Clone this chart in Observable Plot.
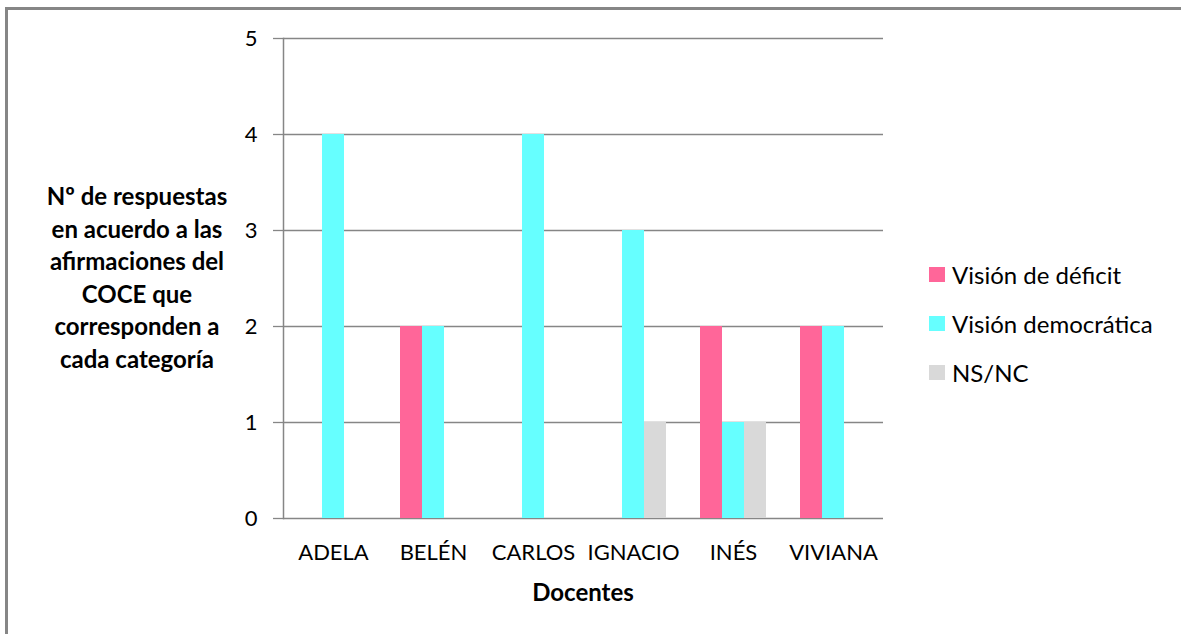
<!DOCTYPE html>
<html><head><meta charset="utf-8">
<script src="https://cdn.jsdelivr.net/npm/d3@7"></script>
<script src="https://cdn.jsdelivr.net/npm/@observablehq/plot@0.6"></script>
<style>
body{margin:0;background:#fff;font-family:Lato,"Open Sans",sans-serif;}
#wrap{position:relative;width:1181px;height:634px;overflow:hidden;background:#fff;}
#frame{position:absolute;left:5px;top:7px;width:1300px;height:800px;border-top:3px solid #868686;border-left:3px solid #868686;box-sizing:border-box;}
#chart{position:absolute;left:0;top:0;}
#ylabel{position:absolute;left:17px;top:180px;width:240px;text-align:center;font-weight:bold;font-size:24px;line-height:32.6px;color:#000;}
#xlabel{position:absolute;left:483px;top:577px;width:200px;text-align:center;font-weight:bold;font-size:24px;color:#000;}
#legend{position:absolute;left:929px;top:250px;font-size:24px;color:#000;}
.item{display:flex;align-items:center;height:49px;}
.sw{width:16px;height:15px;margin-right:7px;}
</style></head>
<body>
<div id="wrap">
<div id="frame"></div>
<div id="chart"></div>
<div id="ylabel">Nº de respuestas<br>en acuerdo a las<br>afirmaciones del<br>COCE que<br>corresponden a<br>cada categoría</div>
<div id="xlabel">Docentes</div>
<div id="legend"></div>
</div>
<script>
const docentes = ["ADELA","BELÉN","CARLOS","IGNACIO","INÉS","VIVIANA"];
const series = ["Visión de déficit","Visión democrática","NS/NC"];
const deficit = [0,2,0,0,2,2];
const democratica = [4,2,4,3,1,2];
const nsnc = [0,0,0,1,1,0];
const colors = ["#ff6699","#66ffff","#d9d9d9"];
const yTicks = [0,1,2,3,4,5];

const seriesValues = [deficit, democratica, nsnc];
const rows = [];
docentes.forEach((d,i)=>{
  seriesValues.forEach((arr,j)=>{
    if (arr[i] > 0) rows.push({docente:d, serie:series[j], valor:arr[i]});
  });
});

const chart = Plot.plot({
  width:1181, height:634,
  marginLeft:281, marginRight:296, marginTop:38, marginBottom:116,
  style:{fontFamily:"Lato, 'Open Sans', sans-serif", fontSize:"21px", color:"#000", background:"transparent"},
  fx:{domain:docentes, padding:0, label:null},
  x:{domain:series, paddingInner:0, paddingOuter:0.75, axis:null},
  y:{domain:[0,5], label:null},
  color:{domain:series, range:colors},
  marks:[
    Plot.ruleY(yTicks, {stroke:"#868686", strokeWidth:1.3}),
    Plot.barY(rows, {fx:"docente", x:"serie", y:"valor", fill:"serie"}),
    Plot.frame({anchor:"left", facetAnchor:"left", stroke:"#868686", strokeWidth:1.5}),
    Plot.axisY({ticks:yTicks, tickSize:10, tickPadding:16, stroke:"#868686", fill:"#000", strokeWidth:1.3, label:null, fontSize:22, tickFormat:d=>String(d)}),
    Plot.axisFx({anchor:"bottom", tickSize:0, tickPadding:26, label:null, fill:"#000", fontSize:22})
  ]
});
document.getElementById("chart").appendChild(chart);

const legend = document.getElementById("legend");
series.forEach((s,i)=>{
  const it = document.createElement("div"); it.className="item";
  const sw = document.createElement("div"); sw.className="sw"; sw.style.background=colors[i];
  const t = document.createElement("span"); t.textContent=s;
  it.appendChild(sw); it.appendChild(t); legend.appendChild(it);
});
</script>
</body></html>
